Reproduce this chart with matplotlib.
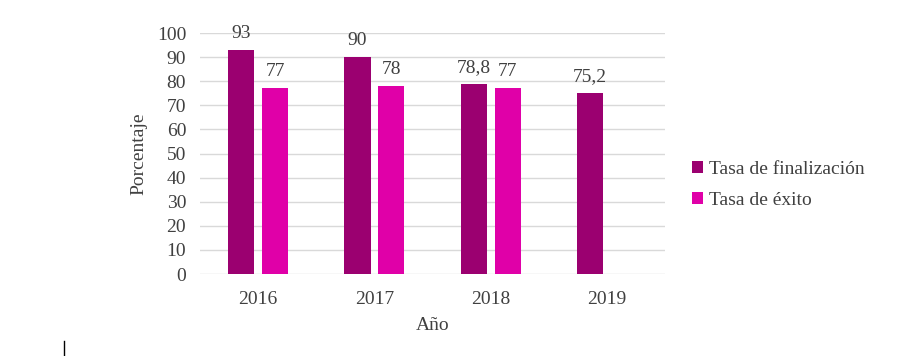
import numpy as np
import matplotlib.pyplot as plt
from matplotlib.lines import Line2D

years = ["2016", "2017", "2018", "2019"]
finalizacion = [93, 90, 78.8, 75.2]
exito = [77, 78, 77, np.nan]
fin_labels = ["93", "90", "78,8", "75,2"]
exito_labels = ["77", "78", "77", ""]

DARK = "#9B0070"
LIGHT = "#E000A8"
TEXT = "#404040"

plt.rcParams["font.family"] = ["Liberation Serif", "DejaVu Serif"]

fig = plt.figure(figsize=(9.08, 3.56), dpi=100)
ax = fig.add_axes([0.2203, 0.2303, 0.5121, 0.677])

x = np.arange(len(years))
width = 0.225
off = 0.146
b1 = ax.bar(x - off, finalizacion, width, color=DARK, label="Tasa de finalización", zorder=3)
b2 = ax.bar(x + off, exito, width, color=LIGHT, label="Tasa de éxito", zorder=3)

for rect, lab in zip(b1, fin_labels):
    ax.text(rect.get_x() + rect.get_width() / 2, rect.get_height() + 3.3, lab,
            ha="center", va="bottom", fontsize=14, color=TEXT)
for rect, lab in zip(b2, exito_labels):
    if lab:
        ax.text(rect.get_x() + rect.get_width() / 2, rect.get_height() + 3.3, lab,
                ha="center", va="bottom", fontsize=14, color=TEXT)

ax.set_xlim(-0.5, len(years) - 0.5)
ax.set_ylim(0, 100)
ax.set_yticks(range(0, 101, 10))
ax.set_xticks(x)
ax.set_xticklabels(years)
ax.yaxis.grid(True, color="#D9D9D9", linewidth=1, zorder=0)
ax.set_axisbelow(True)
for s in ax.spines.values():
    s.set_visible(False)
ax.tick_params(axis="both", length=0, labelsize=14, labelcolor=TEXT)
ax.tick_params(axis="y", pad=10)
ax.tick_params(axis="x", pad=12)
ax.set_ylabel("Porcentaje", fontsize=14, color=TEXT, labelpad=7)
ax.set_xlabel("Año", fontsize=14, color=TEXT, labelpad=7)

ax.legend(loc="center left", bbox_to_anchor=(1.02, 0.37), frameon=False,
          fontsize=14, labelcolor=TEXT, handlelength=0.55, handleheight=0.55,
          handletextpad=0.35, labelspacing=0.75)

fig.add_artist(Line2D([64 / 908, 64 / 908], [0, 15 / 356], color="black", linewidth=1))

fig.savefig("out.png", dpi=100)
